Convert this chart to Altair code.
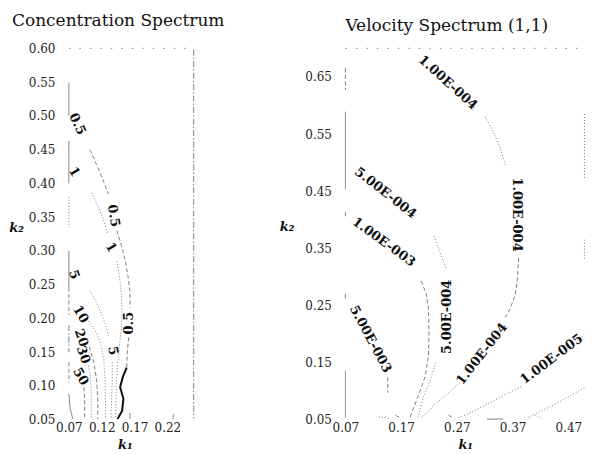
import altair as alt
import pandas as pd

# ---------------- Concentration spectrum (left panel) ----------------
C_X_DOMAIN = [0.07, 0.26]
C_Y_DOMAIN = [0.05, 0.60]
C_X_TICKS = [0.07, 0.12, 0.17, 0.22]
C_Y_TICKS = [0.05, 0.10, 0.15, 0.20, 0.25, 0.30, 0.35, 0.40, 0.45, 0.50, 0.55, 0.60]

# contour pieces (k1, k2)
c05_a = [(0.070, 0.549), (0.070, 0.500)]
c05_b = [(0.102, 0.450), (0.112, 0.428), (0.122, 0.405), (0.130, 0.384)]
c05_c = [(0.143, 0.330), (0.150, 0.308), (0.156, 0.285), (0.160, 0.262), (0.163, 0.240), (0.163, 0.216)]
c05_d = [(0.161, 0.172), (0.159, 0.150), (0.158, 0.127)]
c05_bold = [(0.158, 0.127), (0.152, 0.113), (0.148, 0.098), (0.153, 0.081), (0.151, 0.063), (0.144, 0.051)]
c1_a = [(0.070, 0.463), (0.070, 0.400)]
c1_b = [(0.105, 0.386), (0.115, 0.365), (0.123, 0.345), (0.129, 0.325)]
c1_c = [(0.143, 0.285), (0.147, 0.262), (0.150, 0.236), (0.151, 0.210), (0.150, 0.186),
        (0.147, 0.160), (0.144, 0.130), (0.142, 0.100), (0.141, 0.051)]
c5_a = [(0.070, 0.300), (0.070, 0.240)]
c5_b = [(0.102, 0.241), (0.112, 0.224), (0.120, 0.206), (0.127, 0.187), (0.131, 0.172)]
c5_c = [(0.136, 0.135), (0.136, 0.110), (0.135, 0.080), (0.134, 0.051)]
c10_a = [(0.070, 0.236), (0.070, 0.205)]
c10_b = [(0.100, 0.196), (0.110, 0.182), (0.118, 0.165), (0.123, 0.140), (0.125, 0.110), (0.126, 0.051)]
c20 = [(0.101, 0.158), (0.108, 0.135), (0.112, 0.110), (0.114, 0.080), (0.114, 0.051)]
c30 = [(0.100, 0.130), (0.103, 0.110), (0.104, 0.085), (0.104, 0.051)]
c50 = [(0.093, 0.098), (0.094, 0.075), (0.094, 0.051)]
c_edge1 = [(0.070, 0.380), (0.070, 0.335)]
c_edge2 = [(0.070, 0.190), (0.070, 0.150)]
c_edge3 = [(0.070, 0.135), (0.070, 0.105)]
c_edge4 = [(0.070, 0.088), (0.072, 0.066), (0.076, 0.051)]
c_stub1 = [(0.163, 0.060), (0.163, 0.051)]
c_stub2 = [(0.229, 0.058), (0.229, 0.051)]
c_top = [(0.070, 0.600), (0.260, 0.600)]
c_right = [(0.260, 0.598), (0.260, 0.052)]

conc_lines = [
    ("solid", c05_a), ("dash", c05_b), ("dash", c05_c), ("dash", c05_d), ("bold", c05_bold),
    ("solid", c1_a), ("dot", c1_b), ("dot", c1_c),
    ("solid", c5_a), ("dot", c5_b), ("dot", c5_c),
    ("dash", c10_a), ("dot", c10_b), ("dash", c20), ("dot", c30), ("dash", c50),
    ("dot", c_edge1), ("dashdot", c_edge2), ("dash", c_edge3), ("solid", c_edge4),
    ("solid", c_stub1), ("solid", c_stub2),
    ("sparse", c_top), ("dashdot", c_right),
]

C_LABEL_TEXT = ["0.5", "1", "0.5", "1", "0.5", "5", "10", "20", "30", "50", "5"]
C_LABEL_K1 = [0.083, 0.078, 0.138, 0.134, 0.161, 0.078, 0.088, 0.089, 0.092, 0.088, 0.137]
C_LABEL_K2 = [0.488, 0.417, 0.352, 0.305, 0.193, 0.265, 0.206, 0.171, 0.146, 0.114, 0.152]
C_LABEL_ANGLE = [65, 60, 80, 60, 270, 70, 60, 70, 70, 60, 80]

# ---------------- Velocity spectrum (1,1) (right panel) ----------------
V_X_DOMAIN = [0.07, 0.50]
V_Y_DOMAIN = [0.05, 0.70]
V_X_TICKS = [0.07, 0.17, 0.27, 0.37, 0.47]
V_Y_TICKS = [0.05, 0.15, 0.25, 0.35, 0.45, 0.55, 0.65]

v1e4_b = [(0.321, 0.580), (0.336, 0.553), (0.348, 0.525), (0.357, 0.496)]
v1e4_c = [(0.381, 0.333), (0.379, 0.300), (0.375, 0.269), (0.366, 0.245), (0.357, 0.229)]
v1e4_d = [(0.276, 0.115), (0.255, 0.097), (0.232, 0.078), (0.205, 0.052)]
v5e4_a = [(0.070, 0.589), (0.070, 0.453)]
v5e4_b = [(0.229, 0.371), (0.240, 0.342), (0.252, 0.312)]
v5e4_c = [(0.232, 0.150), (0.222, 0.118), (0.210, 0.090), (0.200, 0.054)]
v1e3 = [(0.206, 0.293), (0.215, 0.270), (0.219, 0.245), (0.220, 0.200), (0.219, 0.160),
        (0.213, 0.125), (0.200, 0.090), (0.186, 0.054)]
v5e3 = [(0.146, 0.124), (0.146, 0.097)]
v1e5_a = [(0.385, 0.108), (0.355, 0.093), (0.320, 0.075), (0.290, 0.060), (0.270, 0.052)]
v1e5_b = [(0.486, 0.188), (0.499, 0.198)]
v5e5 = [(0.499, 0.106), (0.470, 0.090), (0.440, 0.074), (0.410, 0.060), (0.395, 0.052)]
v_edge1 = [(0.070, 0.136), (0.070, 0.054)]
v_edge2 = [(0.070, 0.665), (0.070, 0.627)]
v_edge3 = [(0.070, 0.414), (0.070, 0.406)]
v_edge4 = [(0.070, 0.270), (0.070, 0.262)]
v_redge1 = [(0.499, 0.585), (0.499, 0.470)]
v_redge2 = [(0.499, 0.365), (0.499, 0.330)]
v_bot1 = [(0.324, 0.051), (0.352, 0.051)]
v_bot2 = [(0.130, 0.055), (0.150, 0.052)]
v_bot3 = [(0.160, 0.058), (0.170, 0.051)]
v_bot4 = [(0.255, 0.058), (0.266, 0.051)]
v_bot5 = [(0.410, 0.058), (0.425, 0.051)]
v_top = [(0.070, 0.700), (0.499, 0.700)]

velo_lines = [
    ("dot", v1e4_b), ("dash", v1e4_c), ("dot", v1e4_d),
    ("solid", v5e4_a), ("dot", v5e4_b), ("dot", v5e4_c),
    ("dash", v1e3), ("dash", v5e3), ("dot", v1e5_a), ("dot", v1e5_b), ("dot", v5e5),
    ("solid", v_edge1), ("dash", v_edge2), ("solid", v_edge3), ("solid", v_edge4),
    ("dot", v_redge1), ("dot", v_redge2),
    ("solid", v_bot1), ("dot", v_bot2), ("dash", v_bot3), ("dash", v_bot4), ("dot", v_bot5),
    ("sparse", v_top),
]

V_LABEL_TEXT = ["1.00E-004", "1.00E-004", "1.00E-004", "5.00E-004", "5.00E-004",
                "1.00E-003", "5.00E-003", "1.00E-005"]
V_LABEL_K1 = [0.254, 0.378, 0.315, 0.142, 0.252, 0.139, 0.115, 0.440]
V_LABEL_K2 = [0.640, 0.409, 0.165, 0.447, 0.230, 0.361, 0.191, 0.156]
V_LABEL_ANGLE = [42, 90, 308, 38, 270, 36, 62, 323]

STYLE_DOMAIN = ["solid", "dash", "dot", "dashdot", "sparse"]
STYLE_DASH = [[1, 0], [4, 2.5], [1, 2], [6, 2, 1.5, 2], [1.5, 9]]
SERIF = "DejaVu Serif"


def lines_frame(segs):
    rows = []
    for sid, (style, pts) in enumerate(segs):
        for i, (a, b) in enumerate(pts):
            rows.append({"seg": sid, "ord": i, "k1": a, "k2": b, "style": style})
    return pd.DataFrame(rows)


def panel(segs, ltxt, lk1, lk2, lang, xdom, ydom, xticks, yticks, w, h, title, tdx,
          ytx, yty, xtx, ylp):
    df = lines_frame(segs)
    lab = pd.DataFrame({"txt": ltxt, "k1": lk1, "k2": lk2, "ang": lang})
    x = alt.X("k1:Q", scale=alt.Scale(domain=xdom, nice=False, zero=False),
              axis=alt.Axis(values=xticks, format=".2f", title="k₁", titleX=xtx, titleY=25,
                            titleAlign="center", titleBaseline="middle", labelPadding=3,
                            labelFlush=False, labelOverlap=False))
    y = alt.Y("k2:Q", scale=alt.Scale(domain=ydom, nice=False, zero=False),
              axis=alt.Axis(values=yticks, format=".2f", title="k₂", titleAngle=0,
                            titleX=ytx, titleY=yty, titleAlign="center",
                            titleBaseline="middle", labelPadding=ylp,
                            labelFlush=False, labelOverlap=False))
    thin = alt.Chart(df).transform_filter(alt.datum.style != "bold").mark_line(
        color="#707070", strokeWidth=0.9).encode(
        x=x, y=y, detail="seg:N", order="ord:Q",
        strokeDash=alt.StrokeDash("style:N", scale=alt.Scale(domain=STYLE_DOMAIN, range=STYLE_DASH),
                                  legend=None))
    bold = alt.Chart(df).transform_filter(alt.datum.style == "bold").mark_line(
        color="#111111", strokeWidth=2).encode(x=x, y=y, detail="seg:N", order="ord:Q")
    text = alt.Chart(lab).mark_text(font=SERIF, fontSize=13, fontWeight="bold", color="#111111").encode(
        x=x, y=y, text="txt:N", angle=alt.Angle("ang:Q", scale=None))
    return alt.layer(thin, bold, text).properties(
        width=w, height=h,
        title=alt.TitleParams(title, anchor="start", frame="group", dx=tdx, offset=12,
                              font=SERIF, fontSize=17, fontWeight="normal", color="#111111"))


left = panel(conc_lines, C_LABEL_TEXT, C_LABEL_K1, C_LABEL_K2, C_LABEL_ANGLE,
             C_X_DOMAIN, C_Y_DOMAIN, C_X_TICKS, C_Y_TICKS, 125, 372,
             "Concentration Spectrum", -57, -53, 180, 56, 14)
right = panel(velo_lines, V_LABEL_TEXT, V_LABEL_K1, V_LABEL_K2, V_LABEL_ANGLE,
              V_X_DOMAIN, V_Y_DOMAIN, V_X_TICKS, V_Y_TICKS, 240, 372,
              "Velocity Spectrum (1,1)", 0, -59, 179, 120, 14)

chart = alt.hconcat(left, right, spacing=54).properties(
    padding={"left": 0, "top": 4, "right": 0, "bottom": 0}).configure_view(
    stroke=None).configure_axis(
    labelFont=SERIF, labelFontSize=12, labelColor="#222222", domain=False, ticks=False,
    grid=False, titleFont=SERIF, titleFontSize=13, titleFontStyle="italic",
    titleFontWeight="bold", titleColor="#111111")

chart.save("out.html", embed_options={"renderer": "svg", "actions": False})
